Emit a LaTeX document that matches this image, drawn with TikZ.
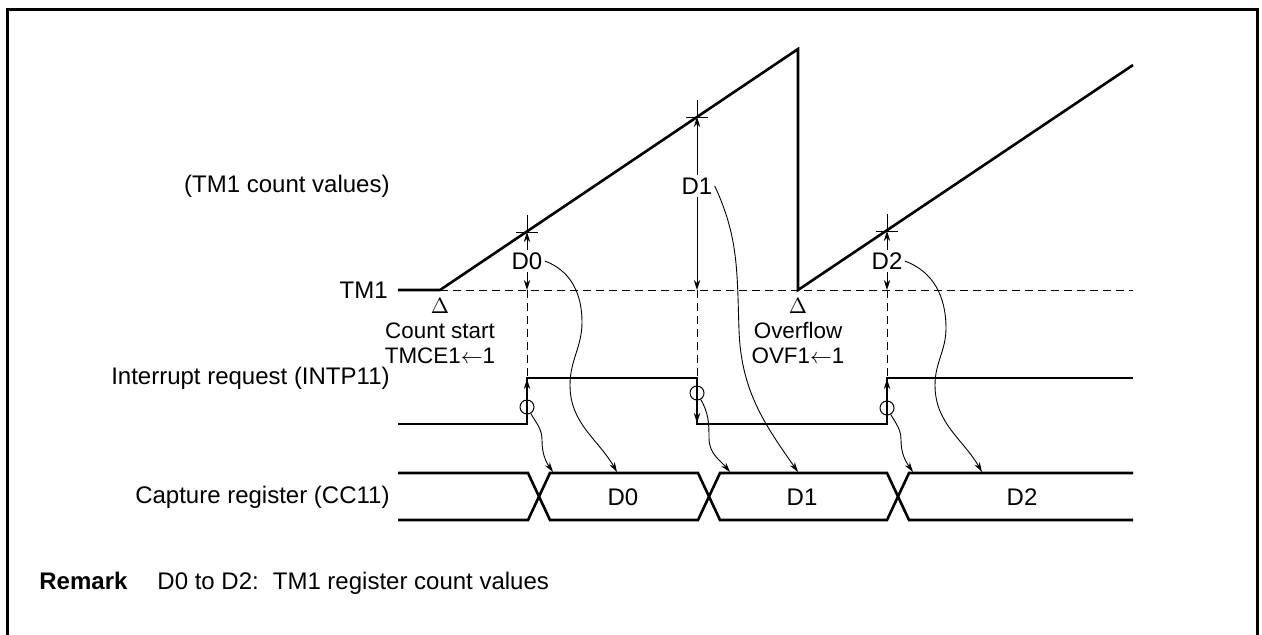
\documentclass[tikz,border=0pt]{standalone}
\usepackage{fontspec}
\setmainfont{Liberation Sans}
\usetikzlibrary{arrows.meta, positioning, calc}

\begin{document}
\begin{tikzpicture}[
    x=0.5pt, y=-0.5pt,
    sig/.style={line width=1.3pt, line join=miter},
    thinline/.style={line width=0.5pt},
    dim/.style={thinline, -{Stealth[length=5pt, width=3.2pt]}},
    curly/.style={line width=0.45pt, -{Stealth[length=5pt, width=3pt]}},
    guide/.style={thinline, dash pattern=on 4pt off 2.5pt},
    txt/.style={font=\fontsize{12}{12.3}\selectfont, inner sep=1pt},
    event/.style={font=\fontsize{11.2}{12.6}\selectfont, inner sep=1pt, align=center, anchor=north},
    ring/.style={draw, thinline, circle, minimum size=7pt, inner sep=0pt}
]
  \useasboundingbox (0,0) rectangle (1262,634);
  \draw[line width=1.5pt] (7,660) -- (7,9) -- (1257,9) -- (1257,660);

  % TM1 count values
  \draw[sig] (398,290) -- (440,290) -- (798,49) -- (798,290) -- (1133,65);
  \draw[guide] (440,290) -- (1133,290);

  \coordinate (c0) at (527,232);
  \coordinate (c1) at (697,117);
  \coordinate (c2) at (887,231);
  \coordinate (b0) at (527,290);
  \coordinate (b1) at (697,290);
  \coordinate (b2) at (887,290);
  \foreach \c in {c0,c1,c2} {
    \draw[thinline] ($(\c)+(-11,0)$) -- ($(\c)+(11,0)$);
    \draw[thinline] ($(\c)+(0,-17)$) -- (\c);
  }

  \node[txt] (d0) at (527,261) {D0};
  \node[txt] (d1) at (697,186) {D1};
  \node[txt] (d2) at (887,261) {D2};
  \draw[dim] (d0) -- (c0);
  \draw[dim] (d0) -- (b0);
  \draw[dim] (d1) -- (c1);
  \draw[dim] (d1) -- (b1);
  \draw[dim] (d2) -- (c2);
  \draw[dim] (d2) -- (b2);

  \node[event] (start) at (440,296) {$\Delta$\\Count start\\TMCE1$\leftarrow$1};
  \node[event] (ovf) at (798,296) {$\Delta$\\Overflow\\OVF1$\leftarrow$1};

  % interrupt request
  \draw[guide] (b0) -- (527,378);
  \draw[guide] (b1) -- (697,378);
  \draw[guide] (b2) -- (887,378);
  \draw[sig] (398,424) -- (527,424) -- (527,378) -- (697,378) -- (697,424) -- (887,424) -- (887,378) -- (1133,378);
  \draw[dim, line width=0.9pt] (527,400) -- (527,379);
  \draw[dim, line width=0.9pt] (697,400) -- (697,423);
  \draw[dim, line width=0.9pt] (887,400) -- (887,379);
  \node[ring] (r0) at (527,407) {};
  \node[ring] (r1) at (697,393) {};
  \node[ring] (r2) at (887,408) {};

  % capture register
  \draw[sig] (398,473) -- (528,473) -- (550,520) -- (698,520) -- (720,473) -- (887,473) -- (909,520) -- (1133,520);
  \draw[sig] (398,520) -- (528,520) -- (550,473) -- (698,473) -- (720,520) -- (887,520) -- (909,473) -- (1133,473);
  \node[txt] (v0) at (623,497) {D0};
  \node[txt] (v1) at (802,497) {D1};
  \node[txt] (v2) at (1022,497) {D2};

  \coordinate (t0) at (553,472);
  \coordinate (u0) at (617,472);
  \coordinate (t1) at (730,472);
  \coordinate (u1) at (798,472);
  \coordinate (t2) at (913,472);
  \coordinate (u2) at (982,472);
  \draw[curly] (r0.-60) to[out=-60,in=90] (542,440) to[out=-90,in=125] (t0);
  \draw[curly] (d0.east) to[out=-20,in=90] (582,322) to[out=-90,in=90] (570,385) to[out=-90,in=120] (u0);
  \draw[curly] (r1.-60) to[out=-60,in=90] (709,438) to[out=-90,in=130] (t1);
  \draw[curly] (d1.east) to[out=-65,in=92] (739,330) to[out=-88,in=125] (u1);
  \draw[curly] (r2.-60) to[out=-60,in=90] (901,440) to[out=-90,in=125] (t2);
  \draw[curly] (d2.east) to[out=-20,in=90] (946,328) to[out=-90,in=90] (935,385) to[out=-90,in=120] (u2);

  % signal names
  \node[txt, anchor=east] (cnt) at (392,186) {(TM1 count values)};
  \node[txt, anchor=east] (tm1) at (390,290) {TM1};
  \node[txt, anchor=east] (intp) at (392,378) {Interrupt request (INTP11)};
  \node[txt, anchor=east] (cc) at (392,497) {Capture register (CC11)};

  \node[txt, anchor=west] (remark) at (37,583) {\textbf{Remark}\hspace{15pt}D0 to D2:\hspace{7pt}TM1 register count values};
\end{tikzpicture}
\end{document}
